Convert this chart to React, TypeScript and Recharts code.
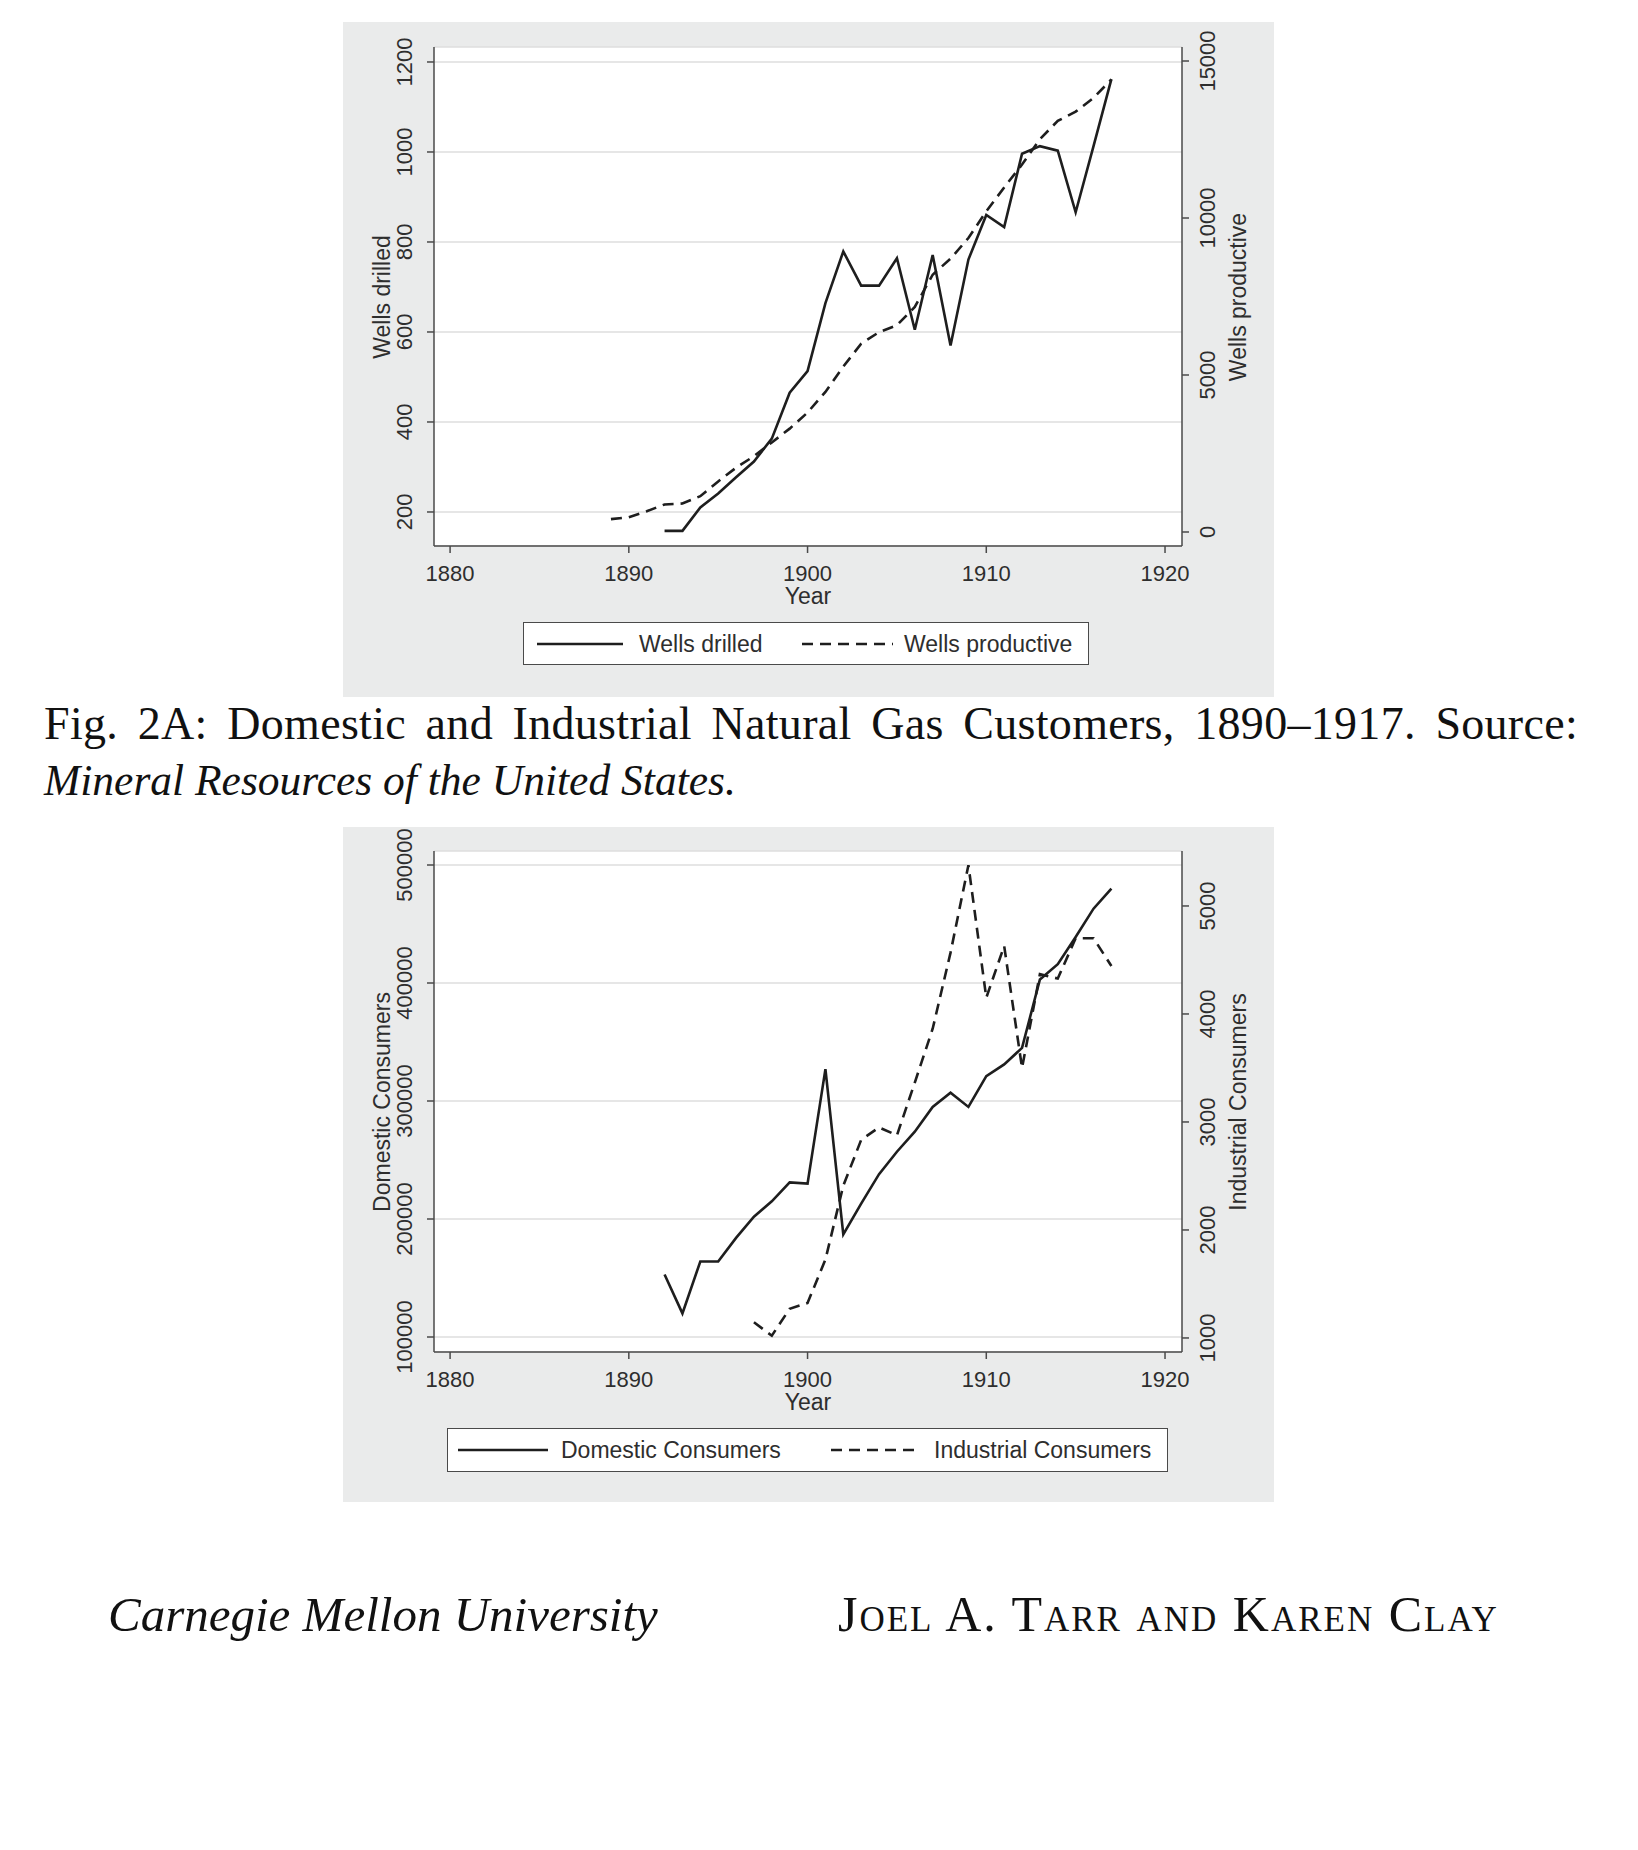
import React from 'react';
import { LineChart, Line, XAxis, YAxis, CartesianGrid } from 'recharts';

const years = [
  1889, 1890, 1891, 1892, 1893, 1894, 1895, 1896, 1897, 1898, 1899, 1900, 1901, 1902, 1903,
  1904, 1905, 1906, 1907, 1908, 1909, 1910, 1911, 1912, 1913, 1914, 1915, 1916, 1917,
];

// Fig. top: wells
const wellsDrilled = [
  null, null, null, 158, 158, 210, 241, 277, 312, 363, 465, 513, 664, 779, 703,
  703, 764, 605, 771, 570, 761, 860, 833, 996, 1013, 1003, 866, 1013, 1162,
];
const wellsProductive = [
  410, 468, 658, 878, 907, 1141, 1609, 2048, 2414, 2853, 3292, 3804, 4462, 5267, 5998,
  6364, 6584, 7169, 8193, 8705, 9363, 10212, 10973, 11704, 12509, 13094, 13387, 13826, 14411,
];

// Fig. 2A: customers
const domesticConsumers = [
  null, null, null, 153000, 120000, 164000, 164000, 184000, 202000, 215000, 231000, 230000, 327000, 187000, 213000,
  238000, 257000, 274000, 295000, 307000, 295000, 321000, 331000, 345000, 403000, 416000, 439000, 463000, 480000,
];
const industrialConsumers = [
  null, null, null, null, null, null, null, null, 1145, 1021, 1270, 1324, 1726, 2411, 2834,
  2950, 2876, 3365, 3863, 4568, 5378, 4150, 4630, 3500, 4369, 4328, 4701, 4701, 4444,
];

const yearTicks = [1880, 1890, 1900, 1910, 1920];
const drilledTicks = [200, 400, 600, 800, 1000, 1200];
const productiveTicks = [0, 5000, 10000, 15000];
const domesticTicks = [100000, 200000, 300000, 400000, 500000];
const industrialTicks = [1000, 2000, 3000, 4000, 5000];

const wellsData = years.map((year, i) => ({
  year,
  left: wellsDrilled[i],
  right: wellsProductive[i],
}));

const customerData = years.map((year, i) => ({
  year,
  left: domesticConsumers[i],
  right: industrialConsumers[i],
}));

const PANEL_W = 931;
const PANEL_H = 675;
const INK = '#1e1e1e';
const AXIS = '#4a4a4a';
const TEXT = '#2e2e2e';
const SANS = '"Liberation Sans", Arial, sans-serif';
const SERIF = '"Liberation Serif", "Times New Roman", serif';
const DASH = '11 7';

const RotTick = (props: any) => {
  const { x, y, payload, side } = props;
  const cx = side === 'left' ? x - 22 : x + 19;
  return (
    <text
      x={cx}
      y={y}
      transform={`rotate(-90 ${cx} ${y})`}
      textAnchor="middle"
      dominantBaseline="central"
      fill={TEXT}
      fontSize={22}
      fontFamily={SANS}
    >
      {payload.value}
    </text>
  );
};

const SideTitle = ({ x, y, text }: { x: number; y: number; text: string }) => (
  <div
    style={{
      position: 'absolute',
      left: x,
      top: y,
      transform: 'translate(-50%, -50%) rotate(-90deg)',
      whiteSpace: 'nowrap',
      fontFamily: SANS,
      fontSize: 23,
      color: TEXT,
      lineHeight: 1,
    }}
  >
    {text}
  </div>
);

const Sample = ({ x, len, dashed }: { x: number; len: number; dashed?: boolean }) => (
  <svg
    width={len}
    height={6}
    style={{ position: 'absolute', left: x, top: '50%', marginTop: -3 }}
  >
    <line x1={0} y1={3} x2={len} y2={3} stroke={INK} strokeWidth={2.5} strokeDasharray={dashed ? DASH : undefined} />
  </svg>
);

const LegendLabel = ({ x, text }: { x: number; text: string }) => (
  <div
    style={{
      position: 'absolute',
      left: x,
      top: '50%',
      transform: 'translateY(-50%)',
      whiteSpace: 'nowrap',
      fontFamily: SANS,
      fontSize: 23,
      color: TEXT,
      lineHeight: 1,
    }}
  >
    {text}
  </div>
);

interface PanelProps {
  left: number;
  top: number;
  data: { year: number; left: number | null; right: number | null }[];
  marginTop: number;
  xAxisHeight: number;
  leftDomain: [number, number];
  rightDomain: [number, number];
  leftTicks: number[];
  rightTicks: number[];
  leftTitle: string;
  rightTitle: string;
  legend: {
    left: number;
    top: number;
    width: number;
    height: number;
    solidX: number;
    solidLen: number;
    solidText: number;
    dashX: number;
    dashLen: number;
    dashText: number;
  };
}

const Panel = ({
  left,
  top,
  data,
  marginTop,
  xAxisHeight,
  leftDomain,
  rightDomain,
  leftTicks,
  rightTicks,
  leftTitle,
  rightTitle,
  legend,
}: PanelProps) => {
  const plotMid = marginTop + (PANEL_H - marginTop - xAxisHeight) / 2;
  return (
    <div
      style={{
        position: 'absolute',
        left,
        top,
        width: PANEL_W,
        height: PANEL_H,
        background: '#eaebeb',
      }}
    >
      <LineChart
        width={PANEL_W}
        height={PANEL_H}
        data={data}
        margin={{ top: marginTop, right: 0, bottom: 0, left: 0 }}
      >
        <CartesianGrid yAxisId="left" vertical={false} stroke="#dedede" strokeWidth={1.5} fill="#ffffff" />
        <XAxis
          dataKey="year"
          type="number"
          domain={[1879.1, 1920.95]}
          ticks={yearTicks}
          allowDataOverflow
          height={xAxisHeight}
          tickSize={7}
          tickMargin={12}
          axisLine={{ stroke: AXIS, strokeWidth: 1.5 }}
          tickLine={{ stroke: AXIS, strokeWidth: 1.5 }}
          tick={{ fill: TEXT, fontSize: 22, fontFamily: SANS }}
          interval={0}
        />
        <YAxis
          yAxisId="left"
          orientation="left"
          type="number"
          domain={leftDomain}
          ticks={leftTicks}
          allowDataOverflow
          width={91}
          tickSize={7}
          tickMargin={0}
          axisLine={{ stroke: AXIS, strokeWidth: 1.5 }}
          tickLine={{ stroke: AXIS, strokeWidth: 1.5 }}
          tick={(p: any) => <RotTick {...p} side="left" />}
          interval={0}
        />
        <YAxis
          yAxisId="right"
          orientation="right"
          type="number"
          domain={rightDomain}
          ticks={rightTicks}
          allowDataOverflow
          width={92}
          tickSize={7}
          tickMargin={0}
          axisLine={{ stroke: AXIS, strokeWidth: 1.5 }}
          tickLine={{ stroke: AXIS, strokeWidth: 1.5 }}
          tick={(p: any) => <RotTick {...p} side="right" />}
          interval={0}
        />
        <Line
          yAxisId="left"
          type="linear"
          dataKey="left"
          stroke={INK}
          strokeWidth={2.6}
          dot={false}
          activeDot={false}
          isAnimationActive={false}
        />
        <Line
          yAxisId="right"
          type="linear"
          dataKey="right"
          stroke={INK}
          strokeWidth={2.6}
          strokeDasharray={DASH}
          dot={false}
          activeDot={false}
          isAnimationActive={false}
        />
      </LineChart>

      <SideTitle x={39} y={plotMid} text={leftTitle} />
      <SideTitle x={895} y={plotMid} text={rightTitle} />
      <div
        style={{
          position: 'absolute',
          left: 465,
          top: PANEL_H - xAxisHeight + 50,
          transform: 'translate(-50%, -50%)',
          fontFamily: SANS,
          fontSize: 23,
          color: TEXT,
          lineHeight: 1,
        }}
      >
        Year
      </div>

      <div
        style={{
          position: 'absolute',
          left: legend.left,
          top: legend.top,
          width: legend.width,
          height: legend.height,
          boxSizing: 'border-box',
          border: `1.5px solid ${AXIS}`,
          background: '#ffffff',
        }}
      >
        <Sample x={legend.solidX} len={legend.solidLen} />
        <LegendLabel x={legend.solidText} text={leftTitle} />
        <Sample x={legend.dashX} len={legend.dashLen} dashed />
        <LegendLabel x={legend.dashText} text={rightTitle} />
      </div>
    </div>
  );
};

export default function App() {
  return (
    <div
      style={{
        position: 'absolute',
        left: 0,
        top: 0,
        width: 1638,
        height: 1850,
        background: '#ffffff',
        overflow: 'hidden',
      }}
    >
      <Panel
        left={343}
        top={22}
        data={wellsData}
        marginTop={25}
        xAxisHeight={151}
        leftDomain={[124.4, 1233.3]}
        rightDomain={[-446, 15446]}
        leftTicks={drilledTicks}
        rightTicks={productiveTicks}
        leftTitle="Wells drilled"
        rightTitle="Wells productive"
        legend={{
          left: 180,
          top: 600,
          width: 566,
          height: 43,
          solidX: 13,
          solidLen: 86,
          solidText: 115,
          dashX: 278,
          dashLen: 91,
          dashText: 380,
        }}
      />

      <div
        style={{
          position: 'absolute',
          left: 44,
          top: 695,
          width: 1534,
          fontFamily: SERIF,
          fontSize: 46,
          letterSpacing: '0.3px',
          lineHeight: '57px',
          textAlign: 'justify',
          textAlignLast: 'justify',
          color: '#111',
        }}
      >
        Fig. 2A: Domestic and Industrial Natural Gas Customers, 1890–1917. Source:
      </div>
      <div
        style={{
          position: 'absolute',
          left: 44,
          top: 752,
          fontFamily: SERIF,
          fontStyle: 'italic',
          fontSize: 43.5,
          lineHeight: '57px',
          color: '#111',
          whiteSpace: 'nowrap',
        }}
      >
        Mineral Resources of the United States.
      </div>

      <Panel
        left={343}
        top={827}
        data={customerData}
        marginTop={24}
        xAxisHeight={150}
        leftDomain={[87288, 511864]}
        rightDomain={[870, 5509]}
        leftTicks={domesticTicks}
        rightTicks={industrialTicks}
        leftTitle="Domestic Consumers"
        rightTitle="Industrial Consumers"
        legend={{
          left: 104,
          top: 601,
          width: 721,
          height: 44,
          solidX: 10,
          solidLen: 90,
          solidText: 113,
          dashX: 383,
          dashLen: 90,
          dashText: 486,
        }}
      />

      <div
        style={{
          position: 'absolute',
          left: 108,
          top: 1586,
          fontFamily: SERIF,
          fontStyle: 'italic',
          fontSize: 49,
          lineHeight: '57px',
          color: '#111',
          whiteSpace: 'nowrap',
        }}
      >
        Carnegie Mellon University
      </div>
      <div
        style={{
          position: 'absolute',
          left: 838,
          top: 1586,
          fontFamily: SERIF,
          fontVariant: 'small-caps',
          fontSize: 50,
          letterSpacing: '2px',
          lineHeight: '57px',
          color: '#111',
          whiteSpace: 'nowrap',
        }}
      >
        Joel A. Tarr and Karen Clay
      </div>
    </div>
  );
}
